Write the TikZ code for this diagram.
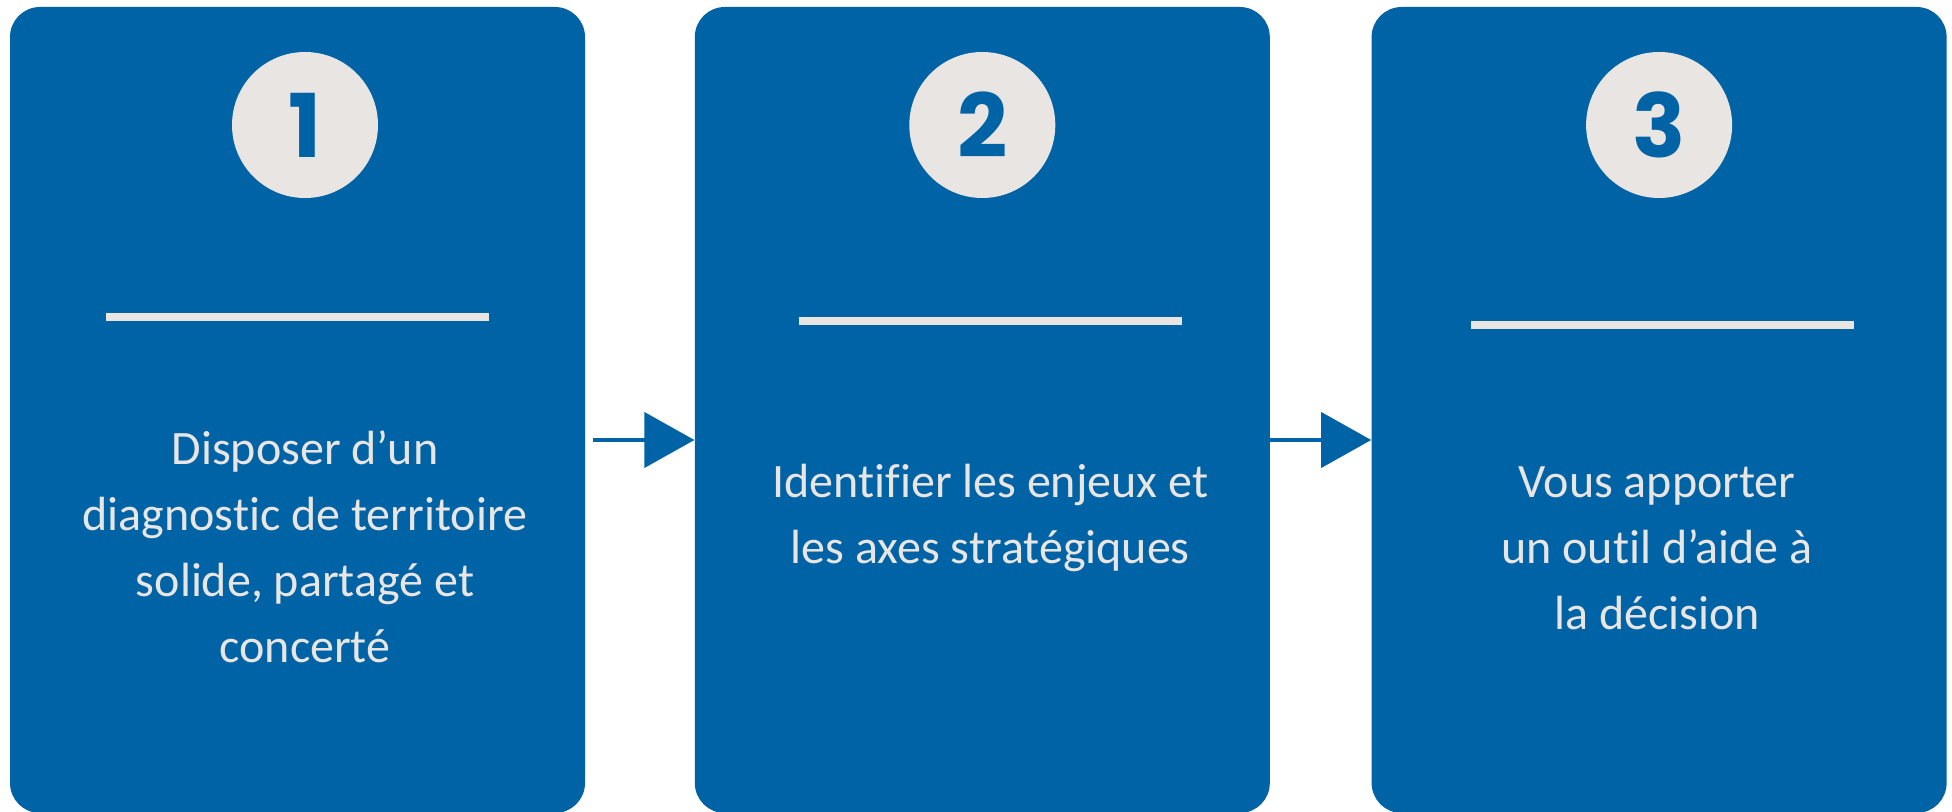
\documentclass[tikz,border=0pt]{standalone}
\usepackage{fontspec}
\setmainfont{Carlito}[Ligatures=NoCommon]
\newfontfamily\numfont{Poppins}
\usepackage{tikz}
\usetikzlibrary{arrows.meta,calc,positioning}

\definecolor{stepblue}{HTML}{0063A6}
\definecolor{steplight}{HTML}{E8E5E2}

\begin{document}
\begin{tikzpicture}
  [
   x=0.5pt, y=-0.5pt,
   stepbox/.style={rectangle,rounded corners=15pt,fill=stepblue,inner sep=0pt,minimum width=287.5pt,minimum height=403pt},
   badge/.style={circle,fill=steplight,text=stepblue,inner sep=0pt,minimum size=73pt,font=\numfont\bfseries\fontsize{44}{44}\selectfont},
   rule/.style={rectangle,fill=steplight,inner sep=0pt,minimum width=191.5pt,minimum height=4pt},
   steptext/.style={text=steplight,align=center,anchor=base,inner sep=0pt,font=\fontsize{24}{33}\selectfont},
   arr/.style={draw=stepblue,line width=2pt,-{Triangle[length=25pt,width=27.5pt]}}
  ]
   \useasboundingbox (0,0) rectangle (1952,812);

   \node[stepbox] (b1) at (297.5,410) {};
   \node[stepbox] (b2) [right=54.5pt of b1] {};
   \node[stepbox] (b3) [right=50.5pt of b2] {};

   \node[badge] (c1) [below=22.5pt of b1.north,xshift=3.75pt] {1};
   \node[badge] (c2) [below=22.5pt of b2.north] {2};
   \node[badge] (c3) [below=22.5pt of b3.north] {3};

   \node[rule] (r1) [below=153pt of b1.north] {};
   \node[rule] (r2) [below=155pt of b2.north,xshift=4pt] {};
   \node[rule] (r3) [below=157pt of b3.north,xshift=1.5pt] {};

   % base = baseline of the last line
   \node[steptext] (t1) at ($(r1)+(7.5,345)$) {Disposer d’un\\diagnostic de territoire\\solide, partagé et\\concerté};
   \node[steptext] (t2) at ($(r2)+(0,242)$) {Identifier les enjeux et\\les axes stratégiques};
   \node[steptext] (t3) at ($(r3)+(-5,304)$) {Vous apporter\\un outil d’aide à\\la décision};

   \draw[arr] ([xshift=4pt,yshift=-15pt]b1.east) -- ([yshift=-15pt]b2.west);
   \draw[arr] ([yshift=-15pt]b2.east) -- ([yshift=-15pt]b3.west);

\end{tikzpicture}
\end{document}
